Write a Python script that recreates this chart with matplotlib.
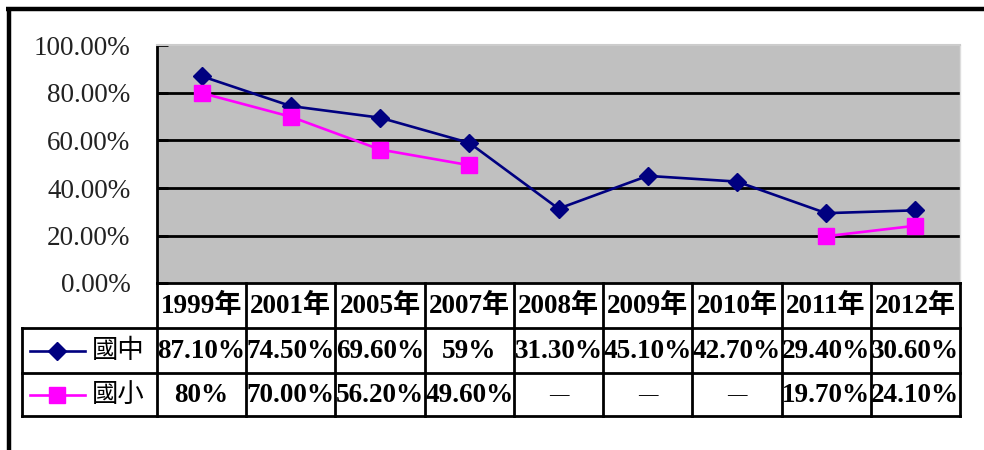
import numpy as np
import matplotlib
matplotlib.use("Agg")
import matplotlib.pyplot as plt

# ---------------- data ----------------
years = ['1999年', '2001年', '2005年', '2007年', '2008年', '2009年', '2010年', '2011年', '2012年']
junior = [87.1, 74.5, 69.6, 59.0, 31.3, 45.1, 42.7, 29.4, 30.6]
elementary = [80.0, 70.0, 56.2, 49.6, np.nan, np.nan, np.nan, 19.7, 24.1]
junior_labels = ['87.10%', '74.50%', '69.60%', '59%', '31.30%', '45.10%', '42.70%', '29.40%', '30.60%']
elementary_labels = ['80%', '70.00%', '56.20%', '49.60%', '—', '—', '—', '19.70%', '24.10%']
series_names = ['國中', '國小']
yticks = [0, 20, 40, 60, 80, 100]
ytick_labels = ['0.00%', '20.00%', '40.00%', '60.00%', '80.00%', '100.00%']

# ---------------- layout ----------------
W, H = 984, 450
fig = plt.figure(figsize=(W / 100, H / 100), dpi=100)
fig.patch.set_facecolor('white')

L, R, T, B = 157, 960, 45.5, 283
ax = fig.add_axes([L / W, 1 - B / H, (R - L) / W, (B - T) / H])
ax.set_facecolor('#C0C0C0')
n = len(years)
x = np.arange(n)
ax.set_xlim(-0.5, n - 0.5)
ax.set_ylim(0, 100)
ax.set_yticks(yticks)
ax.set_yticklabels(ytick_labels, family='Liberation Serif', fontsize=19.5, color='#222222')
ax.set_xticks([])
ax.tick_params(axis='y', direction='in', length=8, width=2, pad=19, color='black')
for v in yticks[1:-1]:
    ax.axhline(v, color='black', lw=2, zorder=1)
ax.spines['left'].set_linewidth(2)
ax.spines['left'].set_color('black')
ax.spines['bottom'].set_linewidth(2)
ax.spines['bottom'].set_color('black')
ax.spines['top'].set_color('#cccccc')
ax.spines['top'].set_linewidth(1.5)
ax.spines['right'].set_color('#dddddd')
ax.spines['right'].set_linewidth(1)

navy = '#000080'
magenta = '#FF00FF'
ax.plot(x, junior, color=navy, lw=1.9, marker='D', ms=9.5, mfc=navy, mec=navy, zorder=3, clip_on=False)
ax.plot(x, elementary, color=magenta, lw=1.9, marker='s', ms=11, mfc=magenta, mec=magenta, zorder=3, clip_on=False)

# ---------------- overlay (table + frame) ----------------
ov = fig.add_axes([0, 0, 1, 1])
ov.set_xlim(0, W)
ov.set_ylim(H, 0)
ov.axis('off')
ov.patch.set_visible(False)

colw = (R - L) / n
bounds = [L + i * colw for i in range(n + 1)]
centers = [L + (i + 0.5) * colw for i in range(n)]
r0, r1, r2, r3 = B, 328, 373, 416
LEG = 22
lw_t = 2.0
kw = dict(color='black', lw=lw_t, solid_capstyle='projecting')
for bx in bounds:
    ov.plot([bx, bx], [r0, r3], **kw)
ov.plot([LEG, LEG], [r1, r3], **kw)
for ry in (r1, r2, r3):
    ov.plot([LEG, R], [ry, ry], **kw)

fam = ['Liberation Serif', 'Noto Sans CJK TC']
hy = (r0 + r1) / 2 + 1
y1 = (r1 + r2) / 2 + 1
y2 = (r2 + r3) / 2 + 1
for cx, yr in zip(centers, years):
    ov.text(cx, hy, yr, family=fam, fontweight='bold', fontsize=19.5, ha='center', va='center')
for cx, lab in zip(centers, junior_labels):
    ov.text(cx, y1, lab, family=fam, fontweight='bold', fontsize=19.5, ha='center', va='center')
for cx, lab in zip(centers, elementary_labels):
    fs = 14 if lab == '—' else 19.5
    ov.text(cx, y2, lab, family=fam, fontweight='bold', fontsize=fs, ha='center', va='center')

# legend keys
for yy, col, mk, ms, name in ((y1 - 1, navy, 'D', 9.5, series_names[0]), (y2 - 1, magenta, 's', 11, series_names[1])):
    ov.plot([30, 85], [yy, yy], color=col, lw=1.9)
    ov.plot([57], [yy], marker=mk, ms=ms, color=col)
    ov.text(92, yy, name, family=['Noto Sans CJK TC'], fontsize=19, ha='left', va='center')

# outer frame
ov.plot([6, W], [9, 9], color='black', lw=3.2, solid_capstyle='butt')
ov.plot([8.5, 8.5], [7.5, H], color='black', lw=3.2, solid_capstyle='butt')

fig.savefig('out.png', dpi=100, facecolor='white')
